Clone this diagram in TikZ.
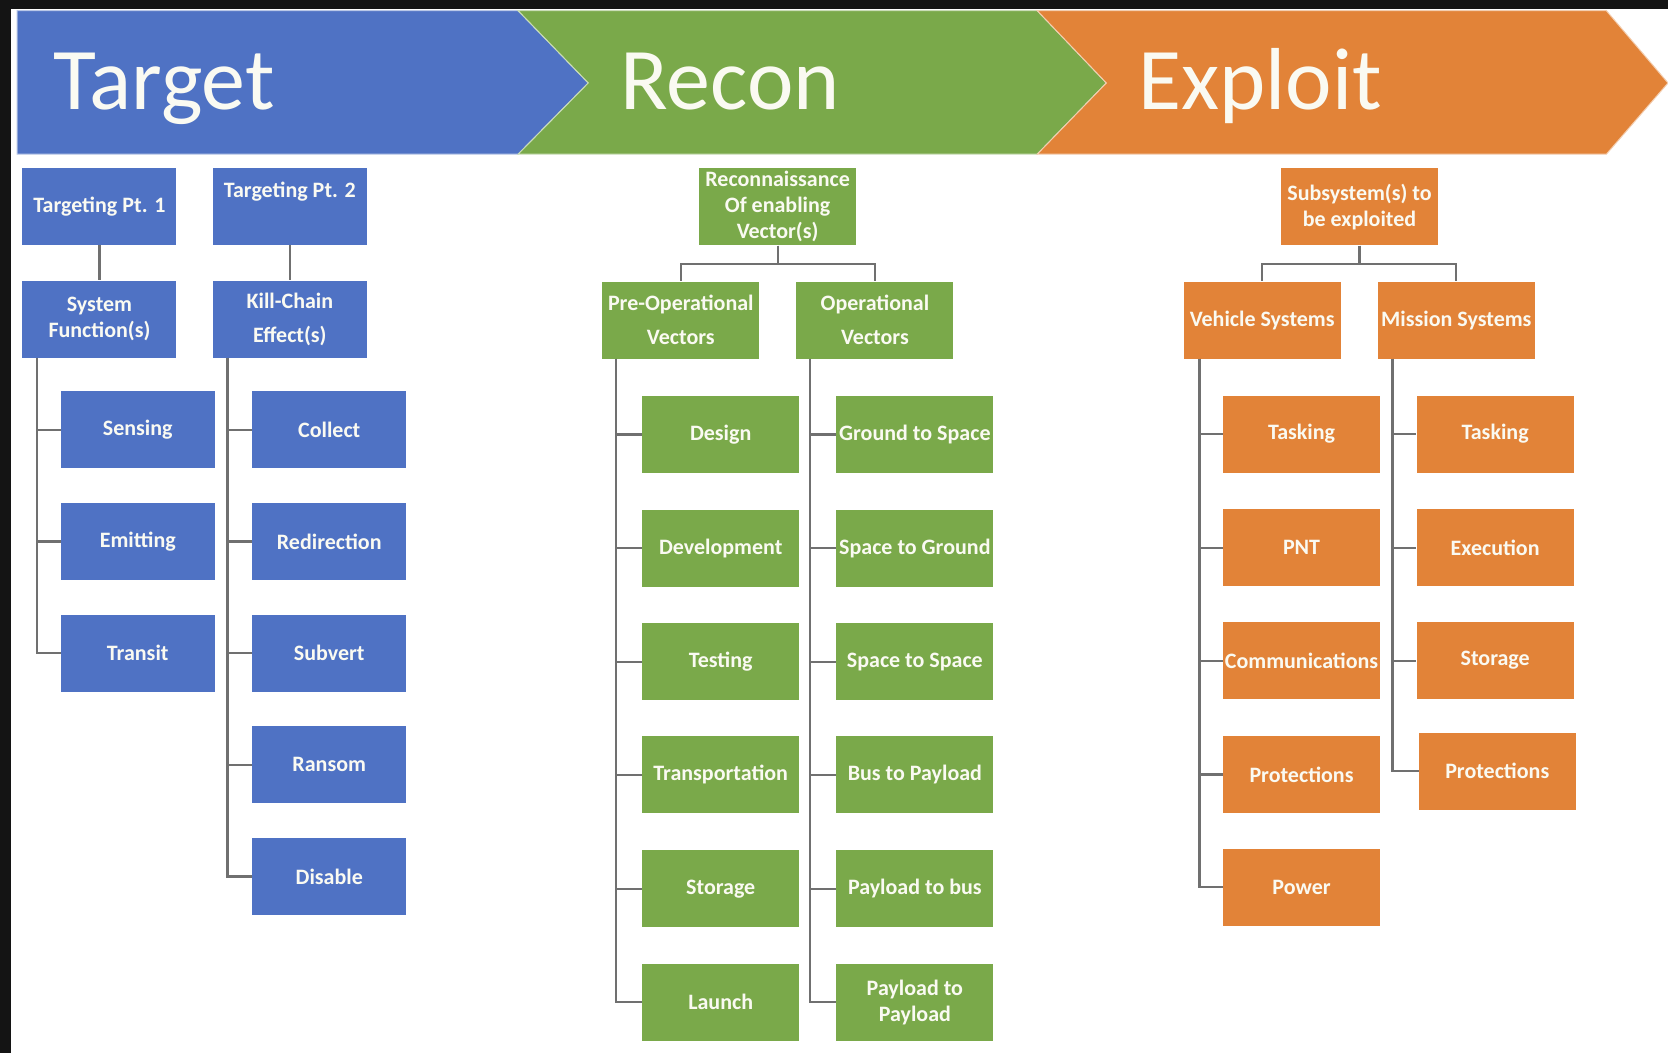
\documentclass[tikz,border=0pt]{standalone}
\usepackage{fontspec}
\setmainfont{Carlito}
\usetikzlibrary{calc}
\definecolor{cblue}{RGB}{79,114,196}
\definecolor{cgreen}{RGB}{122,169,74}
\definecolor{corange}{RGB}{226,131,56}
\definecolor{cline}{RGB}{112,112,112}
\definecolor{ctext}{RGB}{250,250,242}
\definecolor{cblack}{RGB}{20,20,20}
\begin{document}
\begin{tikzpicture}[x=1.0638pt,y=-1.0638pt,
  box/.style={rectangle, inner sep=0pt, minimum width=154pt, minimum height=77pt, text=ctext, align=center, font=\bfseries\fontsize{22}{26}\selectfont},
  loose/.style={font=\bfseries\fontsize{22}{34}\selectfont},
  bbox/.style={box, fill=cblue},
  gbox/.style={box, fill=cgreen, minimum width=157pt},
  obox/.style={box, fill=corange, minimum width=157pt},
  conn/.style={draw=cline, line width=2.2pt},
  title/.style={anchor=base west, inner sep=0pt, text=ctext, font=\fontsize{88}{88}\selectfont},
  band/.style={draw=white!60!#1, line width=1pt, fill=#1},
]
\useasboundingbox (0,0) rectangle (1568,990);
\fill[white] (0,0) rectangle (1568,990);
\fill[cblack] (0,0) rectangle (1568,8);
\fill[cblack] (0,0) rectangle (10,990);

% banner
\path[band=cblue] (16,10) -- (487,10) -- (553,78) -- (487,145) -- (16,145) -- cycle;
\path[band=cgreen] (487,10) -- (975,10) -- (1040,78) -- (975,145) -- (487,145) -- (553,78) -- cycle;
\path[band=corange] (975,10) -- (1510,10) -- (1568,78) -- (1510,145) -- (975,145) -- (1040,78) -- cycle;
\node[title] (t1) at (50,103) {Target};
\node[title] (t2) at (583,103) {Recon};
\node[title] (t3) at (1070,103) {Exploit};

% Target
\node[bbox] (tp1) at (93.5,194) {Targeting Pt. 1};
\node[bbox, loose] (tp2) at (272.5,194) {Targeting Pt. 2\\\mbox{}};
\node[bbox] (sf) at (93.5,300) {System\\Function(s)};
\node[bbox, loose] (kc) at (272.5,300) {Kill-Chain\\Effect(s)};
\node[bbox] (sens) at (129.5,404) {Sensing};
\node[bbox] (emit) at (129.5,509) {Emitting};
\node[bbox] (tran) at (129.5,614) {Transit};
\node[bbox] (coll) at (309.5,404) {Collect};
\node[bbox] (redi) at (309.5,509) {Redirection};
\node[bbox] (subv) at (309.5,614) {Subvert};
\node[bbox] (rans) at (309.5,719) {Ransom};
\node[bbox] (disa) at (309.5,824) {Disable};
\draw[conn] (tp1.south) -- (sf.north);
\draw[conn] (tp2.south) -- (kc.north);
\foreach \c in {sens,emit,tran} \draw[conn] ($(sf.south west)+(14,0)$) |- (\c.west);
\foreach \c in {coll,redi,subv,rans,disa} \draw[conn] ($(kc.south west)+(14,0)$) |- (\c.west);

% Recon
\node[gbox] (rec) at (731,194.5) {Reconnaissance\\Of enabling\\Vector(s)};
\node[gbox, loose] (pre) at (640,301) {Pre-Operational\\Vectors};
\node[gbox, loose] (op) at (822.5,301) {Operational\\Vectors};
\node[gbox] (des) at (677.5,408.5) {Design};
\node[gbox] (dev) at (677.5,515.5) {Development};
\node[gbox] (tst) at (677.5,622) {Testing};
\node[gbox] (trp) at (677.5,728.5) {Transportation};
\node[gbox] (gsto) at (677.5,835.5) {Storage};
\node[gbox] (lau) at (677.5,942) {Launch};
\node[gbox] (gts) at (860,408.5) {Ground to Space};
\node[gbox] (stg) at (860,515.5) {Space to Ground};
\node[gbox] (sts) at (860,622) {Space to Space};
\node[gbox] (btp) at (860,728.5) {Bus to Payload};
\node[gbox] (ptb) at (860,835.5) {Payload to bus};
\node[gbox] (ptp) at (860,942) {Payload to\\Payload};
\draw[conn] (rec.south) -- ++(0,17) -| (pre.north);
\draw[conn] (rec.south) -- ++(0,17) -| (op.north);
\foreach \c in {des,dev,tst,trp,gsto,lau} \draw[conn] ($(pre.south west)+(13,0)$) |- (\c.west);
\foreach \c in {gts,stg,sts,btp,ptb,ptp} \draw[conn] ($(op.south west)+(13,0)$) |- (\c.west);

% Exploit
\node[obox] (sub) at (1278,194.5) {Subsystem(s) to\\be exploited};
\node[obox] (veh) at (1186.5,301) {Vehicle Systems};
\node[obox] (mis) at (1369,301) {Mission Systems};
\node[obox] (vtask) at (1223.5,408) {Tasking};
\node[obox] (pnt) at (1223.5,515) {PNT};
\node[obox] (comm) at (1223.5,621) {Communications};
\node[obox] (vprot) at (1223.5,728) {Protections};
\node[obox] (pow) at (1223.5,834) {Power};
\node[obox] (mtask) at (1405.5,408) {Tasking};
\node[obox] (exe) at (1405.5,515) {Execution};
\node[obox] (osto) at (1405.5,621) {Storage};
\node[obox] (mprot) at (1407.5,725) {Protections};
\draw[conn] (sub.south) -- ++(0,17) -| (veh.north);
\draw[conn] (sub.south) -- ++(0,17) -| (mis.north);
\foreach \c in {vtask,pnt,comm,vprot,pow} \draw[conn] ($(veh.south west)+(15,0)$) |- (\c.west);
\foreach \c in {mtask,exe,osto,mprot} \draw[conn] ($(mis.south west)+(14,0)$) |- (\c.west);
\end{tikzpicture}
\end{document}
